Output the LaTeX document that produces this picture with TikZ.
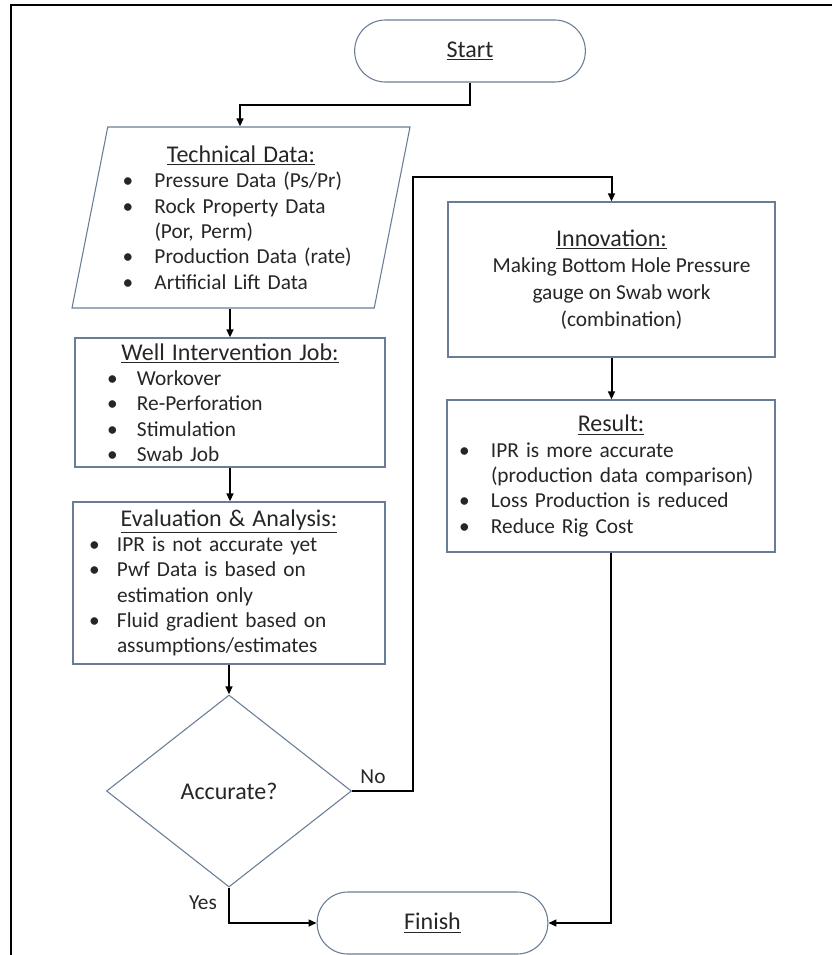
\documentclass[tikz,border=0pt]{standalone}
\usepackage{fontspec}
\setmainfont{Carlito}
\usetikzlibrary{shapes.geometric,arrows.meta}
\definecolor{boxline}{RGB}{105,125,150}
\newlength\bulw
\newcommand{\itm}[1]{\par\noindent\hangindent=\bulw\hangafter=1\makebox[\bulw][l]{\textbullet}#1}
\newcommand{\ttl}[1]{{\centering\fontsize{18}{24}\selectfont\underline{#1}\par}}
\begin{document}
\begin{tikzpicture}[x=0.75pt,y=-0.75pt,
  box/.style={draw=boxline, line width=0.8pt, fill=white, inner sep=0pt, text=black!85, font=\fontsize{16}{19}\selectfont},
  term/.style={box, rounded corners=23pt, minimum width=173pt, minimum height=46.5pt, font=\fontsize{18}{22}\selectfont},
  flow/.style={line width=1.5pt, -{Triangle[length=6pt,width=5pt]}},
  lbl/.style={text=black!85, font=\fontsize{16}{19}\selectfont}]
	\useasboundingbox (0,0) rectangle (832,955);
	\draw[line width=2.2pt] (832,5) -- (11,5) -- (11,955);
	% left column
	\node[term] (start) at (470,51) {\underline{Start}};
	\node[box, trapezium, trapezium left angle=76, trapezium right angle=104, trapezium stretches body,
	      minimum width=253.5pt, minimum height=135.75pt, text width=177.75pt] (tech) at (241,217.5)
	  {\setlength\bulw{24pt}\raggedright\ttl{Technical Data:}\itm{Pressure Data (Ps/Pr)}\itm{Rock Property Data\newline(Por, Perm)}\itm{Production Data (rate)}\itm{Artificial Lift Data}\par};
	\node[box, minimum width=232.5pt, minimum height=96.75pt, text width=184.5pt] (well) at (230,402.5)
	  {\setlength\bulw{22.5pt}\raggedright\ttl{Well Intervention Job:}\itm{Workover}\itm{Re-Perforation}\itm{Stimulation}\itm{Swab Job}\par};
	\node[box, minimum width=234pt, minimum height=121.5pt, text width=210pt] (eval) at (229,583)
	  {\setlength\bulw{21pt}\raggedright\ttl{Evaluation \& Analysis:}\itm{IPR is not accurate yet}\itm{Pwf Data is based on\newline estimation only}\itm{Fluid gradient based on\newline assumptions/estimates}\par};
	\node[box, diamond, minimum width=183.75pt, minimum height=144pt, font=\fontsize{18}{22}\selectfont] (dec) at (229,791) {Accurate?};
	\node[term] (finish) at (432.5,923) {\underline{Finish}};
	% right column
	\node[box, minimum width=245.25pt, minimum height=116.25pt, align=center, font=\fontsize{16}{20}\selectfont] (innov) at (611.5,279.5)
	  {{\fontsize{18}{24}\selectfont\underline{Innovation:}}\\ \hspace*{15pt}Making Bottom Hole Pressure\\ \hspace*{15pt}gauge on Swab work\\ \hspace*{15pt}(combination)};
	\node[box, minimum width=246pt, minimum height=114pt, text width=228pt] (result) at (611,476)
	  {\setlength\bulw{24pt}\raggedright\ttl{Result:}\itm{IPR is more accurate\newline (production data comparison)}\itm{Loss Production is reduced}\itm{Reduce Rig Cost}\par};
	\node[lbl] (nolbl) at (373,777) {No};
	\node[lbl] (yeslbl) at (203,903) {Yes};
	% connectors
	\coordinate (c1) at (240,105);
	\coordinate (c2) at (413,177);
	\draw[flow] (start.south) |- (c1) -- (c1 |- tech.north);
	\draw[flow] (well.north |- tech.south) -- (well.north);
	\draw[flow] (well.south) -- (well.south |- eval.north);
	\draw[flow] (eval.south) -- (dec.north);
	\draw[flow] (dec.east) -| (c2) -| (innov.north);
	\draw[flow] (innov.south) -- (innov.south |- result.north);
	\draw[flow] (result.south) |- (finish.east);
	\draw[flow] (dec.south) |- (finish.west);
\end{tikzpicture}
\end{document}
